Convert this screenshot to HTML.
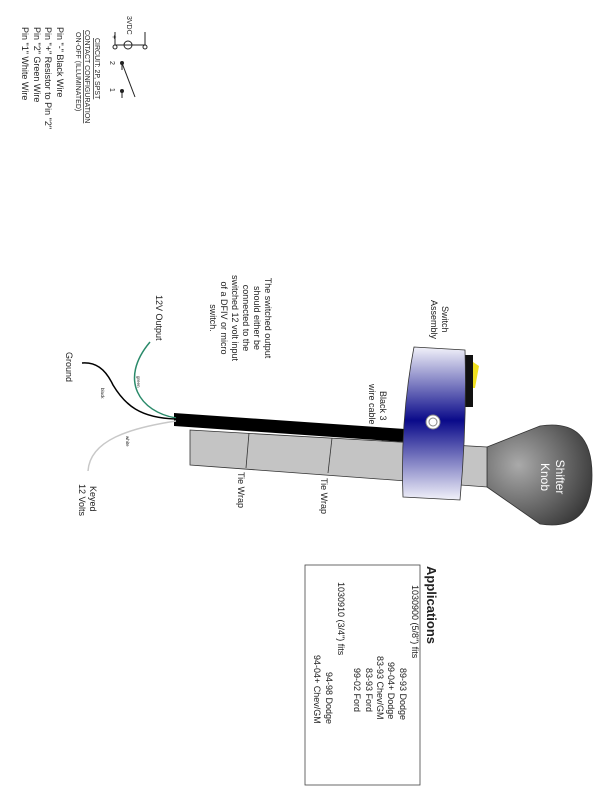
<!DOCTYPE html>
<html><head><meta charset="utf-8"><style>
html,body{margin:0;padding:0;background:#fff;}
svg{display:block;}
text{font-family:"Liberation Sans",sans-serif;fill:#222;}
</style></head><body>
<svg width="612" height="792" viewBox="0 0 612 792" xmlns="http://www.w3.org/2000/svg">
<defs>
<linearGradient id="blue" x1="0" y1="0" x2="0" y2="1">
<stop offset="0" stop-color="#f2f2fa"/><stop offset="0.48" stop-color="#0a0a8a"/><stop offset="1" stop-color="#f2f2fa"/>
</linearGradient>
<radialGradient id="knob" cx="0.3" cy="0.4" r="0.8">
<stop offset="0" stop-color="#aaa"/><stop offset="1" stop-color="#333"/>
</radialGradient>
</defs>
<!-- schematic top-left -->
<g stroke="#222" fill="none" stroke-width="1">
<line x1="145" y1="32" x2="145" y2="45"/><circle cx="145" cy="47" r="2"/>
<line x1="115" y1="32" x2="115" y2="45"/><circle cx="115" cy="47" r="2"/>
<line x1="145" y1="49" x2="115" y2="49" stroke-width="0"/>
<circle cx="128" cy="45" r="4"/>
<line x1="115" y1="45" x2="145" y2="45"/>
<line x1="122" y1="63" x2="122" y2="70"/><circle cx="122" cy="63" r="1.5" fill="#222"/>
<line x1="122" y1="91" x2="122" y2="98"/><circle cx="122" cy="91" r="1.5" fill="#222"/>
<line x1="122" y1="63" x2="135" y2="97"/>
</g>
<g font-size="7">
<text transform="translate(127,16) rotate(90)">3VDC</text>
<text transform="translate(143,35) rotate(90)">-</text>
<text transform="translate(112,35) rotate(90)">+</text>
<text transform="translate(110,61) rotate(90)">2</text>
<text transform="translate(110,88) rotate(90)">1</text>
<text transform="translate(95,38) rotate(90)" text-decoration="underline">CIRCUIT: 2P, SPST</text>
<text transform="translate(85,30) rotate(90)" text-decoration="underline">CONTACT CONFIGURATION</text>
<text transform="translate(76,32) rotate(90)">ON-OFF (ILLUMINATED)</text>
</g>
<g font-size="9">
<text transform="translate(57,27) rotate(90)">Pin "-" Black Wire</text>
<text transform="translate(45,27) rotate(90)">Pin "+" Resistor to Pin "2"</text>
<text transform="translate(34,27) rotate(90)">Pin "2" Green Wire</text>
<text transform="translate(22,27) rotate(90)">Pin "1" White Wire</text>
</g>
<!-- knob -->
<path d="M487,447 L540,426 Q592,418 592,475 Q592,532 540,524 L487,487 Z" fill="url(#knob)" stroke="#333" stroke-width="0.8"/>
<!-- shaft -->
<polygon points="190,430 487,447 487,487 190,465" fill="#c4c4c4" stroke="#333" stroke-width="0.8"/>
<line x1="249" y1="433" x2="246" y2="468" stroke="#333" stroke-width="0.8"/>
<line x1="332" y1="438" x2="328" y2="473" stroke="#333" stroke-width="0.8"/>
<!-- cable -->
<polygon points="174,413 405,429 405,442 174,426" fill="#000"/>
<!-- switch -->
<rect x="464" y="355" width="9" height="52" fill="#111"/>
<polygon points="473,362 479,366 475,388 473,388" fill="#f0e020"/>
<path d="M414,347 L465,350 Q467,425 460,500 L403,497 Q400,420 414,347 Z" fill="url(#blue)" stroke="#333" stroke-width="0.8"/>
<circle cx="433" cy="422" r="7" fill="#fff" stroke="#888"/>
<circle cx="433" cy="422" r="4" fill="none" stroke="#888"/>
<!-- wires -->
<path d="M176,418 C140,412 118,380 150,342" stroke="#2a8a6a" stroke-width="1.5" fill="none"/>
<path d="M176,419 C140,418 125,405 113,385 C105,368 95,362 82,363" stroke="#000" stroke-width="1.5" fill="none"/>
<path d="M176,421 C130,428 90,440 88,471" stroke="#c8c8c8" stroke-width="1.5" fill="none"/>
<g font-size="4.5">
<text transform="translate(137,376) rotate(90)">green</text>
<text transform="translate(101,388) rotate(90)">black</text>
<text transform="translate(126,436) rotate(90)">white</text>
</g>
<g font-size="9">
<text transform="translate(156,295) rotate(90)">12V Output</text>
<text transform="translate(66,352) rotate(90)">Ground</text>
<text transform="translate(90,486) rotate(90)">Keyed</text>
<text transform="translate(79,484) rotate(90)">12 Volts</text>
<text transform="translate(442,306) rotate(90)">Switch</text>
<text transform="translate(431,300) rotate(90)">Assembly</text>
<text transform="translate(380,391) rotate(90)">Black 3</text>
<text transform="translate(369,384) rotate(90)">wire cable</text>
<text transform="translate(321,478) rotate(90)">Tie Wrap</text>
<text transform="translate(238,472) rotate(90)">Tie Wrap</text>
</g>
<g font-size="9" text-anchor="middle">
<text transform="translate(265,318) rotate(90)">The switched output</text>
<text transform="translate(254,318) rotate(90)">should either be</text>
<text transform="translate(243,318) rotate(90)">connected to the</text>
<text transform="translate(232,318) rotate(90)">switched 12 volt input</text>
<text transform="translate(221,318) rotate(90)">of a DFIV or micro</text>
<text transform="translate(210,318) rotate(90)">switch.</text>
</g>
<g font-size="12" text-anchor="middle" style="fill:#fff">
<text transform="translate(556,477) rotate(90)" style="fill:#fff">Shifter</text>
<text transform="translate(541,477) rotate(90)" style="fill:#fff">Knob</text>
</g>
<!-- applications -->
<rect x="305" y="565" width="115" height="220" fill="none" stroke="#444" stroke-width="0.8"/>
<text transform="translate(427,566) rotate(90)" font-size="13" font-weight="bold">Applications</text>
<g font-size="9">
<text transform="translate(412,585) rotate(90)">1030900 (5/8") fits</text>
<text transform="translate(400,668) rotate(90)">89-93 Dodge</text>
<text transform="translate(388,662) rotate(90)">99-04+ Dodge</text>
<text transform="translate(377,656) rotate(90)">83-93 Chev/GM</text>
<text transform="translate(366,668) rotate(90)">83-93 Ford</text>
<text transform="translate(354,668) rotate(90)">99-02 Ford</text>
<text transform="translate(338,582) rotate(90)">1030910 (3/4") fits</text>
<text transform="translate(326,672) rotate(90)">94-98 Dodge</text>
<text transform="translate(314,655) rotate(90)">94-04+ Chev/GM</text>
</g>
</svg>
</body></html>
